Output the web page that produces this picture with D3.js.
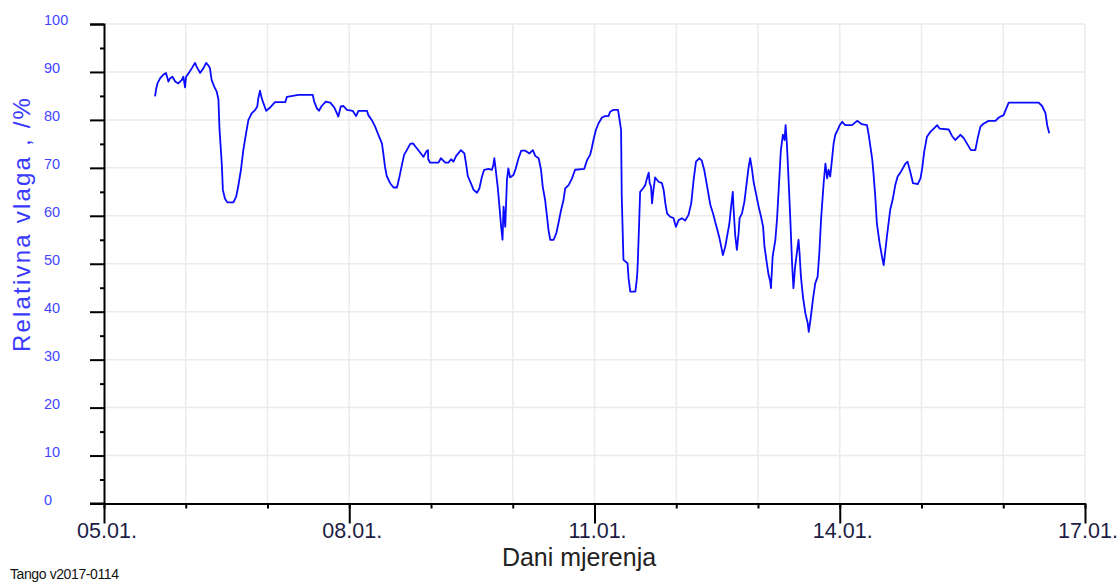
<!DOCTYPE html>
<html>
<head>
<meta charset="utf-8">
<script src="https://cdn.jsdelivr.net/npm/d3@7"></script>
<style>
  html, body { margin: 0; padding: 0; background: #fff; }
  svg { display: block; font-family: "Liberation Sans", Arial, sans-serif; }
</style>
</head>
<body>
<svg id="chart" width="1120" height="582"></svg>
<script>
// ---- data (hours since 05.01. 00:00, relative humidity %) ----
const hours = [
  15.0,15.3,15.7,16.5,17.4,18.2,18.9,19.4,20.1,20.9,21.8,22.8,23.3,23.8,24.1,24.8,25.8,26.7,27.2,28.2,
  29.2,30.0,30.6,31.1,31.6,32.4,33.1,33.6,33.9,34.6,34.9,35.5,36.2,38.0,38.8,39.4,40.2,40.9,41.7,42.4,
  43.4,44.4,45.0,45.3,45.8,46.3,46.8,47.6,48.8,50.2,53.2,53.7,57.1,61.3,61.7,62.5,63.1,63.9,65.1,66.4,
  67.6,68.8,69.5,70.3,71.3,73.0,74.0,74.7,77.2,77.6,78.6,79.6,80.6,81.6,82.0,82.5,83.0,84.0,85.0,86.0,
  86.7,87.4,88.1,88.9,89.9,90.7,91.6,92.8,93.8,94.6,95.1,95.2,95.7,98.2,98.9,100.2,101.1,101.9,102.6,103.4,
  104.8,105.8,106.3,106.8,107.7,108.5,109.5,110.2,110.9,111.6,112.9,113.9,114.3,114.6,115.0,115.6,116.1,116.6,117.0,117.3,
  117.8,118.3,118.7,119.2,120.2,120.9,121.7,122.5,123.6,124.9,125.9,126.6,127.6,128.3,128.8,129.5,130.0,130.5,131.0,132.0,
  132.8,133.4,134.1,134.9,135.4,136.4,137.4,138.3,141.0,141.8,142.7,143.2,143.7,144.4,145.2,146.2,147.1,148.1,148.6,149.6,
  150.9,151.3,151.8,152.0,152.5,153.7,154.0,154.5,156.0,156.5,156.7,157.1,157.4,158.2,158.9,159.4,159.9,160.2,160.6,160.9,
  161.3,161.8,162.8,163.8,164.3,164.8,165.3,166.2,167.2,167.9,168.7,169.7,170.6,171.6,172.4,173.1,173.8,174.8,175.5,176.2,
  177.0,178.0,178.8,179.4,180.1,180.7,181.7,182.4,182.9,183.6,184.1,184.6,184.8,185.3,185.8,186.3,186.6,187.3,188.0,188.6,
  189.2,189.7,190.2,190.7,191.5,192.2,192.9,193.5,193.9,194.6,195.1,195.6,195.8,196.3,197.1,197.6,198.2,198.7,199.3,199.8,
  200.1,200.5,201.0,201.5,202.0,202.4,202.9,203.4,203.9,204.2,204.6,205.2,205.9,206.6,206.9,207.4,208.1,208.8,209.5,210.0,
  210.5,211.3,211.8,212.3,212.7,213.2,213.7,214.2,214.7,215.4,216.0,216.7,217.6,219.6,221.1,222.5,224.0,224.5,225.5,225.9,
  226.4,226.9,227.7,228.4,228.9,229.4,229.9,230.8,231.6,232.3,233.0,233.8,235.3,235.9,236.7,237.5,238.9,239.7,240.2,240.8,
  241.6,242.6,243.6,244.6,245.3,248.0,249.0,249.9,251.4,252.4,253.4,254.5,255.8,256.5,257.3,258.2,259.7,261.7,262.7,264.1,
  264.9,265.6,274.4,275.4,276.4,276.9,277.5
];
const humidity = [
  84.9,86.4,87.6,88.7,89.4,89.8,88.0,88.7,89.0,88.0,87.6,88.3,89.0,86.8,89.0,89.7,90.8,91.9,91.1,89.8,
  90.8,91.9,91.4,90.8,88.3,86.9,85.9,84.2,78.2,70.6,65.4,63.6,62.8,62.8,64.0,66.1,69.6,73.7,77.2,80.0,
  81.4,82.1,82.8,84.5,86.1,84.5,83.5,81.9,82.6,83.7,83.7,84.8,85.2,85.2,83.8,82.4,81.9,82.9,83.8,83.6,
  82.6,80.7,82.8,82.9,82.1,81.9,80.8,81.9,81.9,81.0,80.0,78.6,76.8,75.1,73.0,70.2,68.3,66.8,65.9,65.9,
  68.0,70.4,72.7,73.7,75.0,75.1,74.3,73.2,72.3,73.4,73.7,71.8,71.1,71.1,72.0,71.1,71.1,71.8,71.3,72.5,
  73.7,73.0,70.8,68.3,66.8,65.4,64.8,65.7,68.0,69.6,69.8,69.6,70.6,72.0,69.6,65.9,61.9,57.7,55.0,61.9,
  57.7,67.5,69.9,68.0,68.5,69.9,72.0,73.6,73.6,73.0,73.7,72.5,72.0,69.6,66.1,63.3,60.2,57.0,55.0,55.0,
  56.4,58.4,60.9,63.3,65.7,66.4,67.8,69.6,69.8,71.6,72.7,74.1,75.8,77.9,79.3,80.5,80.8,80.8,81.7,82.1,
  82.1,80.3,77.9,64.0,50.8,50.1,47.0,44.2,44.2,47.3,50.1,58.4,65.0,65.7,66.4,67.8,69.0,66.8,66.1,62.6,
  65.4,68.0,67.1,66.8,65.4,62.6,60.5,59.8,59.5,57.7,59.1,59.5,59.0,60.2,62.6,67.5,71.3,72.0,71.5,69.6,
  66.4,62.3,60.5,58.8,57.0,55.3,51.8,53.6,55.6,58.4,61.9,65.0,61.9,56.0,52.9,56.4,59.5,60.5,62.9,66.4,
  69.9,72.0,69.9,67.1,64.3,61.9,59.8,57.7,53.6,50.1,47.7,46.3,44.9,51.5,55.0,59.5,67.1,73.6,76.9,75.8,
  78.9,74.8,67.1,59.1,50.1,44.9,49.4,52.2,55.0,52.2,47.3,43.1,39.7,37.6,35.8,38.3,42.4,45.9,47.3,52.2,
  59.1,67.1,70.9,67.8,69.6,68.2,71.6,75.1,76.9,77.9,78.9,79.6,78.9,78.9,79.8,79.1,78.9,76.9,72.0,68.9,
  64.3,58.4,54.3,51.5,49.7,52.9,56.0,61.2,63.6,66.4,68.2,69.0,70.9,71.3,69.2,66.8,66.6,67.8,69.9,73.4,
  76.5,77.5,78.2,78.9,78.2,78.0,76.6,75.8,76.9,76.2,75.0,73.7,73.7,76.2,78.6,79.2,79.8,79.8,80.5,81.0,
  82.4,83.6,83.6,82.9,81.4,78.9,77.2
];
const xTickHours = [0, 72, 144, 216, 288];
const xTickLabels = ["05.01.", "08.01.", "11.01.", "14.01.", "17.01."];
const dayHours = d3.range(0, 289, 24);
const yTickValues = [0, 10, 20, 30, 40, 50, 60, 70, 80, 90, 100];
const yMinorValues = [5, 15, 25, 35, 45, 55, 65, 75, 85, 95];
const xTitle = "Dani mjerenja";
const yTitle = "Relativna vlaga , /%";
const footer = "Tango v2017-0114";

// ---- layout ----
const svg = d3.select("#chart");
const x = d3.scaleLinear().domain([0, 288]).range([104, 1085]);
const y = d3.scaleLinear().domain([0, 100]).range([503.5, 24]);

// grid
const grid = svg.append("g").attr("stroke", "#ebebeb").attr("stroke-width", 1.5);
grid.selectAll("line.v").data(dayHours.slice(1)).enter().append("line")
  .attr("x1", d => x(d)).attr("x2", d => x(d))
  .attr("y1", y(100)).attr("y2", y(0));
grid.selectAll("line.h").data(yTickValues.slice(1)).enter().append("line")
  .attr("x1", x(0)).attr("x2", x(288))
  .attr("y1", d => y(d)).attr("y2", d => y(d));

// data line
const pts = hours.map((h, i) => [h, humidity[i]]);
svg.append("path")
  .datum(pts)
  .attr("fill", "none")
  .attr("stroke", "#0a0aff")
  .attr("stroke-width", 1.8)
  .attr("stroke-linejoin", "round")
  .attr("d", d3.line().x(d => x(d[0])).y(d => y(d[1])));

// y axis
const yAxisG = svg.append("g").attr("transform", `translate(${x(0)},0)`);
yAxisG.call(d3.axisLeft(y).tickValues(yTickValues).tickSize(14).tickFormat(""));
yAxisG.append("g").call(d3.axisLeft(y).tickValues(yMinorValues).tickSize(4).tickFormat(""));
yAxisG.selectAll("path.domain").attr("stroke", "#000").attr("stroke-width", 2);
yAxisG.selectAll("line").attr("stroke", "#000").attr("stroke-width", 2);
yAxisG.selectAll("g g path.domain").remove();

svg.append("g").selectAll("text").data(yTickValues).enter().append("text")
  .attr("x", 44).attr("y", d => y(d) + 1)
  .attr("fill", "#4646ff").attr("font-size", 14.5)
  .text(d => d);

// x axis
const xAxisG = svg.append("g").attr("transform", `translate(0,${y(0)})`);
xAxisG.call(d3.axisBottom(x).tickValues(xTickHours).tickSize(20).tickFormat("").tickSizeOuter(0));
xAxisG.append("g").call(d3.axisBottom(x).tickValues(dayHours).tickSize(5).tickFormat("").tickSizeOuter(0));
xAxisG.selectAll("path.domain").attr("stroke", "#000").attr("stroke-width", 2);
xAxisG.selectAll("line").attr("stroke", "#000").attr("stroke-width", 2);
xAxisG.selectAll("g g path.domain").remove();
// extend x axis line to the left (zero tick)
svg.append("line").attr("x1", x(0) - 14).attr("x2", x(0))
  .attr("y1", y(0)).attr("y2", y(0)).attr("stroke", "#000").attr("stroke-width", 2);

svg.append("g").selectAll("text").data(xTickHours).enter().append("text")
  .attr("x", d => x(d) + 3).attr("y", 538)
  .attr("text-anchor", "middle")
  .attr("fill", "#1c1c44").attr("font-size", 21.5)
  .text((d, i) => xTickLabels[i]);

// titles
svg.append("text").attr("x", 579).attr("y", 566)
  .attr("text-anchor", "middle").attr("font-size", 25).attr("fill", "#222")
  .text(xTitle);

svg.append("text")
  .attr("transform", "translate(30,224) rotate(-90)")
  .attr("text-anchor", "middle").attr("font-size", 24).attr("fill", "#3a3aff")
  .attr("letter-spacing", 2.2)
  .text(yTitle);

svg.append("text").attr("x", 10).attr("y", 579)
  .attr("font-size", 14).attr("fill", "#111").attr("letter-spacing", -0.4)
  .text(footer);
</script>
</body>
</html>
